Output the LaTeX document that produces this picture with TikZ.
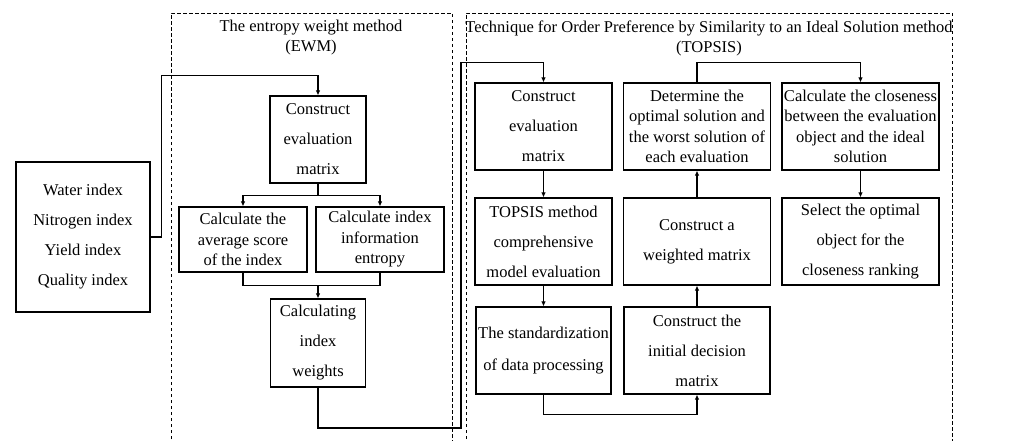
\documentclass[tikz,border=0pt]{standalone}
\usepackage{fontspec}
\setmainfont{Liberation Serif}
\usetikzlibrary{arrows.meta,calc}
\begin{document}
\begin{tikzpicture}[x=1pt,y=-1pt,
  box/.style={draw, line width=1.1pt, align=center, inner sep=0pt, font=\fontsize{16.5}{30}\selectfont},
  tight/.style={font=\fontsize{16.5}{20.5}\selectfont},
  ln/.style={line width=1.1pt},
  arr/.style={line width=1.1pt, -{Latex[length=5pt,width=4.5pt]}},
  frame/.style={line width=0.9pt, dash pattern=on 3.5pt off 2.5pt},
  ttl/.style={align=center, font=\fontsize{16.5}{20}\selectfont, inner sep=0pt}]
\fill[white] (0,0) rectangle (1032,441);
\useasboundingbox (0,0) rectangle (1032,441);
% frames
\draw[frame] (171,445) -- (171,13) -- (452,13) -- (452,445);
\draw[frame] (466,445) -- (466,13) -- (952,13) -- (952,445);
\node[ttl] (t1) at (311,38) {The entropy weight method\\(EWM)};
\node[ttl] (t2) at (709,38) {Technique for Order Preference by Similarity to an Ideal Solution method\\(TOPSIS)};
% input
\node[box, minimum width=134, minimum height=150] (inp) at (83,237) {Water index\\Nitrogen index\\Yield index\\Quality index};
% EWM
\node[box, minimum width=96, minimum height=87] (ec) at (318,139.5) {Construct\\evaluation\\matrix};
\node[box, tight, minimum width=128, minimum height=65] (avg) at (243,239.5) {Calculate the\\average score\\of the index};
\node[box, tight, minimum width=128, minimum height=65] (ent) at (380,239.5) {Calculate index\\information\\entropy};
\node[box, minimum width=95, minimum height=88] (wts) at (318,343) {Calculating\\index\\weights};
% TOPSIS
\node[box, minimum width=137, minimum height=87] (tc) at (543.5,126.5) {Construct\\evaluation\\matrix};
\node[box, minimum width=137, minimum height=87] (tm) at (543.5,241.5) {TOPSIS method\\comprehensive\\model evaluation};
\node[box, minimum width=135, minimum height=87, font=\fontsize{16.5}{32}\selectfont] (ts) at (543.5,350.5) {The standardization\\of data processing};
\node[box, minimum width=146, minimum height=87] (ti) at (697,350.5) {Construct the\\initial decision\\matrix};
\node[box, minimum width=147, minimum height=87] (tw) at (697,241.5) {Construct a\\weighted matrix};
\node[box, tight, minimum width=147, minimum height=87] (td) at (697,126.5) {Determine the\\optimal solution and\\the worst solution of\\each evaluation};
\node[box, tight, minimum width=157, minimum height=87] (cc) at (860.5,126.5) {Calculate the closeness\\between the evaluation\\object and the ideal\\solution};
\node[box, minimum width=157, minimum height=87] (so) at (860.5,241.5) {Select the optimal\\object for the\\closeness ranking};
% connectors EWM
\draw[arr] (inp.east) -- ++(11,0) |- ($(ec.north)+(0,-20)$) -- (ec.north);
\coordinate (s1) at ($(ec.south)+(0,12)$);
\draw[ln] (ec.south) -- (s1);
\draw[arr] (s1) -| (avg.north);
\draw[arr] (s1) -| (ent.north);
\coordinate (m1) at ($(wts.north)+(0,-13)$);
\draw[ln] (avg.south) |- (m1) -| (ent.south);
\draw[arr] (m1) -- (wts.north);
% EWM to TOPSIS
\coordinate (c1) at (461,428);
\draw[arr] (wts.south) |- (c1) |- ($(tc.north)+(0,-20)$) -- (tc.north);
% TOPSIS connectors
\draw[arr] (tc.south) -- (tm.north);
\draw[arr] (tm.south) -- (ts.north);
\draw[arr] (ts.south) -- ++(0,20) -| (ti.south);
\draw[arr] (ti.north) -- (tw.south);
\draw[arr] (tw.north) -- (td.south);
\draw[arr] (td.north) -- ++(0,-20) -| (cc.north);
\draw[arr] (cc.south) -- (so.north);
\end{tikzpicture}
\end{document}
